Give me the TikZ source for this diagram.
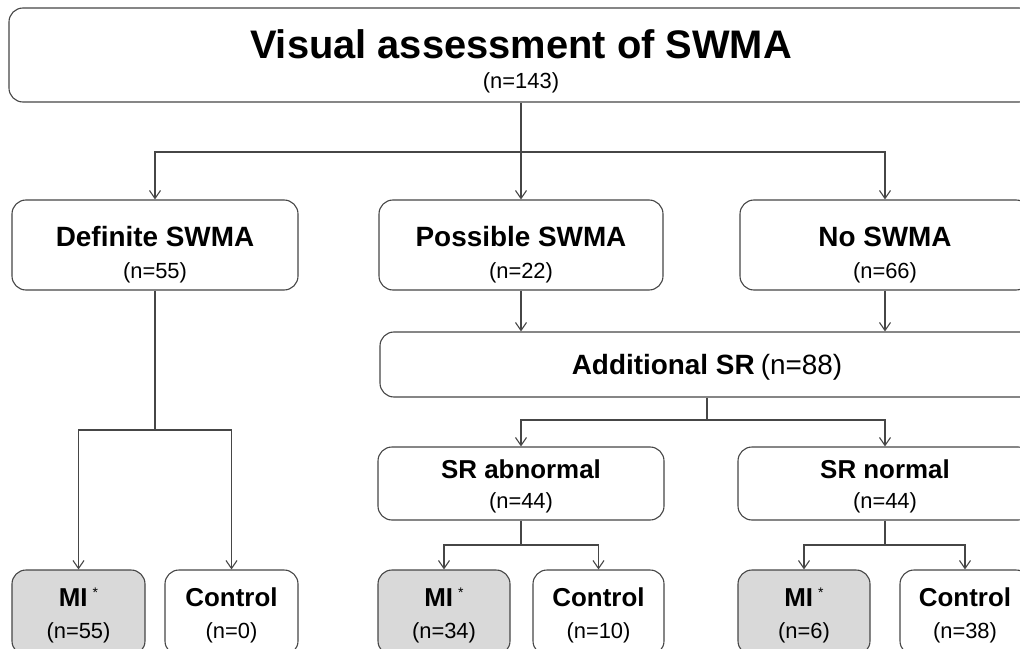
\documentclass[tikz,border=0pt]{standalone}
\usepackage{fontspec}
\setmainfont{Liberation Sans}
\usetikzlibrary{arrows.meta,positioning}

\definecolor{linegray}{RGB}{70,70,70}
\definecolor{migray}{RGB}{217,217,217}
\newcommand{\up}[1]{\rule{0pt}{#1bp}}
\newcommand{\hd}[1]{{\fontsize{28}{28}\selectfont\bfseries #1}}
\newcommand{\sr}[1]{{\fontsize{26}{26}\selectfont\bfseries #1}}
\newcommand{\nn}[1]{{\fontsize{22}{22}\selectfont #1}}
\newcommand{\mistar}{\up{25}\sr{MI}\hspace{5bp}\raisebox{9bp}{\fontsize{14}{14}\selectfont *}}

\begin{document}
\begin{tikzpicture}[x=1bp, y=-1bp, >={Straight Barb[length=8bp,width=11bp]}]
\tikzstyle{box}=[draw=linegray, line width=1.1bp, rounded corners=14bp, fill=white, align=center, inner sep=0pt, font=\fontsize{22}{30}\selectfont]
\tikzstyle{mibox}=[box, fill=migray]
\tikzstyle{line}=[draw=linegray, line width=1.1bp]
\clip (0,0) rectangle (1020,649);

% boxes
\node[box, minimum width=1024bp, minimum height=94bp] (vis) at (521,55) {\up{42}{\fontsize{40}{40}\selectfont\bfseries Visual assessment of SWMA}\\[0bp]\nn{(n=143)}};
\node[box, minimum width=286bp, minimum height=90bp] (def) at (155,245) {\up{40}\hd{Definite SWMA}\\[2bp]\nn{(n=55)}};
\node[box, minimum width=284bp, minimum height=90bp] (pos) at (521,245) {\up{40}\hd{Possible SWMA}\\[2bp]\nn{(n=22)}};
\node[box, minimum width=290bp, minimum height=90bp] (no) at (885,245) {\up{40}\hd{No SWMA}\\[2bp]\nn{(n=66)}};
\node[box, minimum width=654bp, minimum height=65bp] (add) at (707,364.5) {\up{26}\hd{Additional SR} {\fontsize{28}{28}\selectfont(n=88)}};
\node[box, minimum width=286bp, minimum height=73bp] (abn) at (521,483.5) {\up{25}\sr{SR abnormal}\\[0bp]\nn{(n=44)}};
\node[box, minimum width=294bp, minimum height=73bp] (nor) at (885,483.5) {\up{25}\sr{SR normal}\\[0bp]\nn{(n=44)}};

\node[mibox, minimum width=133bp, minimum height=85bp] (mi1) at (78.5,612.5) {\mistar\\[2bp]\nn{(n=55)}};
\node[box, minimum width=133bp, minimum height=85bp] (con1) at (231.5,612.5) {\up{25}\sr{Control}\\[2bp]\nn{(n=0)}};
\node[mibox, minimum width=132bp, minimum height=85bp] (mi2) at (444,612.5) {\mistar\\[2bp]\nn{(n=34)}};
\node[box, minimum width=131bp, minimum height=85bp] (con2) at (598.5,612.5) {\up{25}\sr{Control}\\[2bp]\nn{(n=10)}};
\node[mibox, minimum width=132bp, minimum height=85bp] (mi3) at (804,612.5) {\mistar\\[2bp]\nn{(n=6)}};
\node[box, minimum width=130bp, minimum height=85bp] (con3) at (965,612.5) {\up{25}\sr{Control}\\[2bp]\nn{(n=38)}};

% split points
\coordinate (s1) at (521,152);
\coordinate (s2) at (707,420);
\coordinate (s3) at (155,430);
\coordinate (s4) at (521,545);
\coordinate (s5) at (885,545);

% connectors
\draw[line] (vis.south) -- (s1);
\draw[line,->] (s1) -| (def.north);
\draw[line,->] (s1) -- (pos.north);
\draw[line,->] (s1) -| (no.north);
\draw[line,->] (pos.south) -- (pos.south |- add.north);
\draw[line,->] (no.south) -- (no.south |- add.north);
\draw[line] (add.south) -- (s2);
\draw[line,->] (s2) -| (abn.north);
\draw[line,->] (s2) -| (nor.north);
\draw[line] (def.south) -- (s3);
\draw[line,->] (s3) -| (mi1.north);
\draw[line,->] (s3) -| (con1.north);
\draw[line] (abn.south) -- (s4);
\draw[line,->] (s4) -| (mi2.north);
\draw[line,->] (s4) -| (con2.north);
\draw[line] (nor.south) -- (s5);
\draw[line,->] (s5) -| (mi3.north);
\draw[line,->] (s5) -| (con3.north);
\end{tikzpicture}
\end{document}
